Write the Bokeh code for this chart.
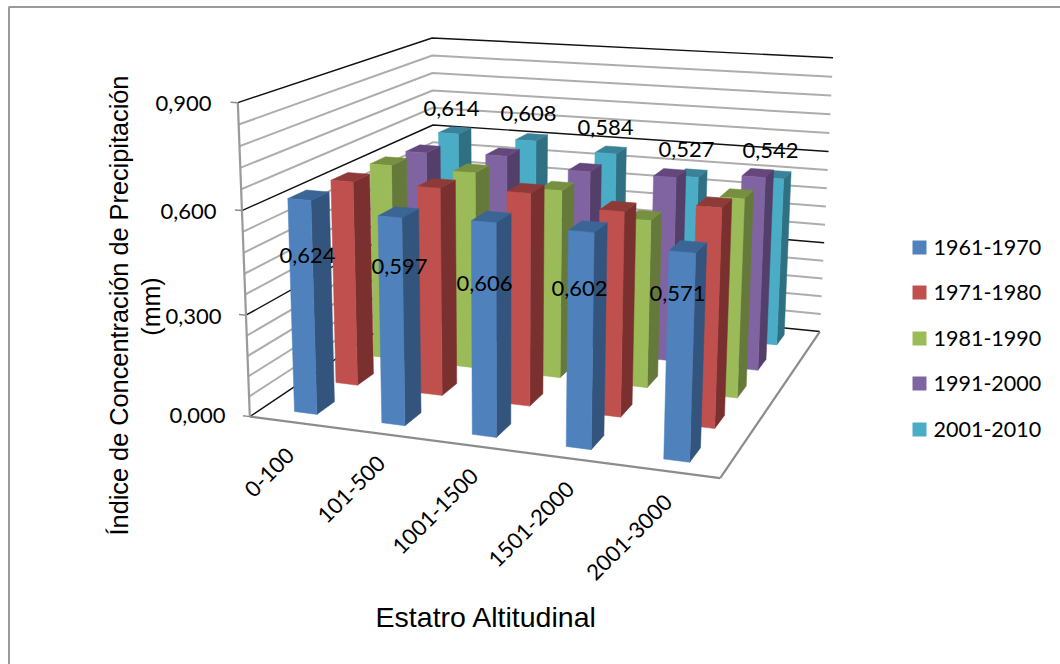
import numpy as np
from bokeh.plotting import figure
from bokeh.core.properties import value
from bokeh.embed import file_html
from bokeh.resources import INLINE

# Chart data
categories = ["0-100", "101-500", "1001-1500", "1501-2000", "2001-3000"]
series_names = ["1961-1970", "1971-1980", "1981-1990", "1991-2000", "2001-2010"]
s1961 = [0.624, 0.597, 0.606, 0.602, 0.571]
s1971 = [0.620, 0.622, 0.628, 0.597, 0.630]
s1981 = [0.615, 0.612, 0.578, 0.510, 0.596]
s1991 = [0.602, 0.610, 0.580, 0.582, 0.602]
s2001 = [0.614, 0.608, 0.584, 0.527, 0.542]
series = [s1961, s1971, s1981, s1991, s2001]
y_ticks = [0.0, 0.3, 0.6, 0.9]
y_tick_labels = ["0,000", "0,300", "0,600", "0,900"]
y_max = 0.9
minor_step = 0.06

front_colors = ["#4F81BD", "#C0504D", "#9BBB59", "#8064A2", "#4BACC6"]
side_colors = ["#33547C", "#7A302E", "#657A3A", "#533F6A", "#2F7183"]
top_colors = ["#3A6595", "#8E3A38", "#76903F", "#65477E", "#3A8199"]

# Bar footprint inside one category/series cell of the floor
BAR_X0, BAR_X1 = 0.365, 0.625
BAR_Z0, BAR_Z1 = 0.300, 0.720

# Perspective camera, fitted to known positions of the chart box in page pixels:
# (category position, value, series depth) -> (page x, page y)
anchors = [
    ((0, 0, 0), (249, 414)), ((5, 0, 0), (720, 478)), ((5, 0, 5), (820, 329)), ((0, 0, 5), (433, 297)),
    ((0, .9, 0), (236, 102)), ((0, .9, 5), (433, 37)), ((5, .9, 5), (832, 58)),
    ((0, .6, 0), (241, 209)), ((0, .6, 5), (433, 124)), ((5, .6, 5), (827, 150)),
    ((0, .3, 0), (246, 313)), ((5, .3, 5), (824, 240)),
    ((.365, 0, .3), (295, 410)), ((.625, 0, .3), (317, 413)), ((.625, 0, .72), (333, 401)),
    ((4.365, 0, .3), (664, 459)), ((4.625, 0, .3), (689, 462)), ((4.625, 0, .72), (699, 449)),
    ((.365, .624, .3), (287, 198)), ((1.365, .597, .3), (377, 216)), ((2.365, .606, .3), (472, 222)),
    ((3.365, .602, .3), (568, 231)), ((4.365, .571, .3), (669, 252)),
]
rows = []
for (wx, wy, wz), (u, v) in anchors:
    h = [wx, wy * 5, wz, 1]
    rows.append(h + [0, 0, 0, 0] + [-u * c for c in h])
    rows.append([0, 0, 0, 0] + h + [-v * c for c in h])
camera = np.linalg.svd(np.array(rows, float))[2][-1].reshape(3, 4)


def project(wx, wy, wz):
    h = camera @ np.array([wx, wy * 5, wz, 1.0])
    return h[0] / h[2], h[1] / h[2]


def polygon(corners):
    pts = [project(*c) for c in corners]
    return [q[0] for q in pts], [q[1] for q in pts]


p = figure(width=1060, height=664, x_range=(0, 1060), y_range=(664, 0),
           output_backend="svg", toolbar_location=None, min_border=0,
           outline_line_color=None, background_fill_color="white")
p.axis.visible = False
p.grid.visible = False

# Chart area frame (top and left edges)
p.line([8.5, 8.5, 1060], [664, 6.5, 6.5], line_color="#9A9A9A", line_width=2)


def segment(a, b, color, width):
    xs, ys = polygon([a, b])
    p.line(xs, ys, line_color=color, line_width=width)


# Wall gridlines: minor first, then the major ticks on top
minor_levels = [k * minor_step for k in range(1, 16) if k % 5 != 0]
for lv in minor_levels:
    xs, ys = polygon([(0, lv, 0), (0, lv, 5), (5, lv, 5)])
    p.line(xs, ys, line_color="#ADADAD", line_width=2)
for lv in y_ticks:
    xs, ys = polygon([(0, lv, 0), (0, lv, 5), (5, lv, 5)])
    p.line(xs, ys, line_color="#111111", line_width=1.4)

# Floor front and right edges, value axis and tick marks
segment((0, 0, 0), (5, 0, 0), "#8C8C8C", 2.2)
segment((5, 0, 0), (5, 0, 5), "#8C8C8C", 2.2)
segment((0, 0, 0), (0, y_max, 0), "#9A9A9A", 2.2)
for lv in y_ticks:
    segment((-0.08, lv, 0), (0, lv, 0), "#8C8C8C", 1.5)

# Bars, painted from the far corner towards the viewer
for i in range(len(categories)):
    for j in reversed(range(len(series))):
        val = series[j][i]
        x0, x1 = i + BAR_X0, i + BAR_X1
        z0, z1 = j + BAR_Z0, j + BAR_Z1
        xs, ys = polygon([(x1, 0, z0), (x1, 0, z1), (x1, val, z1), (x1, val, z0)])
        p.patch(xs, ys, fill_color=side_colors[j], line_color=side_colors[j], line_width=0.5)
        xs, ys = polygon([(x0, val, z0), (x1, val, z0), (x1, val, z1), (x0, val, z1)])
        p.patch(xs, ys, fill_color=top_colors[j], line_color=top_colors[j], line_width=0.5)
        xs, ys = polygon([(x0, 0, z0), (x1, 0, z0), (x1, val, z0), (x0, val, z0)])
        p.patch(xs, ys, fill_color=front_colors[j], line_color=front_colors[j], line_width=0.5)

FONT = value("Lato")
LABEL_SIZE = "22px"


def fmt(v):
    return f"{v:.3f}".replace(".", ",")


def put(x, y, text, size=LABEL_SIZE, font=FONT, angle=0, align="center"):
    p.text([x], [y], text=[text], text_font=font, text_font_size=size, angle=angle,
           text_align=align, text_baseline="middle", text_color="#000000")


# Data labels on the front and back series
front_label_pos = [(307, 255), (399, 266), (484, 283), (579, 288), (677, 293)]
back_label_pos = [(451, 108), (528, 113), (605, 127), (686, 149), (770, 150)]
for v, (x, y) in zip(s1961, front_label_pos):
    put(x, y, fmt(v))
for v, (x, y) in zip(s2001, back_label_pos):
    put(x, y, fmt(v))

# Value axis labels
tick_pos = [(197, 415), (193, 316), (188, 211), (183, 103)]
for t, (x, y) in zip(y_tick_labels, tick_pos):
    put(x, y, t)

# Category labels
cat_pos = [(269, 472), (351, 489), (435, 511), (531, 524), (629, 537)]
for c, (x, y) in zip(categories, cat_pos):
    put(x, y, c, angle=np.pi / 4)

# Axis titles
TITLE_FONT = value("Liberation Sans")
put(486, 616, "Estatro Altitudinal", size="28.5px", font=TITLE_FONT)
put(118, 305, "Índice de Concentración de Precipitación", size="25.3px", font=TITLE_FONT, angle=np.pi / 2)
put(150, 306, "(mm)", size="25px", font=TITLE_FONT, angle=np.pi / 2)

# Legend
legend_y = [247, 292, 338, 383, 429]
for name, color, y in zip(series_names, front_colors, legend_y):
    p.scatter([919], [y], marker="square", size=14, fill_color=color, line_color=None)
    put(933, y, name, size="21.5px", align="left")

open("out.html", "w").write(file_html(p, INLINE))
